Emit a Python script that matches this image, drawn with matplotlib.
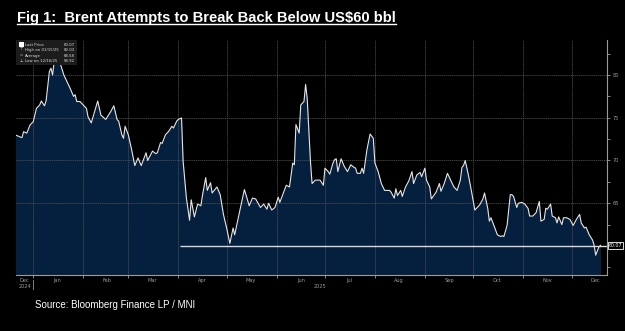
import matplotlib
matplotlib.use("Agg")
import matplotlib.pyplot as plt
import matplotlib.dates as mdates
from matplotlib.lines import Line2D
from matplotlib.patches import Rectangle
import numpy as np
import pandas as pd

# days counted from 1 Jan 2025, Brent front-month close (USD/bbl)
day_offset = [-11, -7, -6, -4, -2, 0, 2, 4, 5, 7, 8, 10, 11, 12, 13, 14, 17, 19, 21, 23,
              25, 26, 27, 29, 31, 33, 34, 36, 38, 40, 42, 45, 48, 50, 52, 53, 55, 56, 57, 59,
              61, 63, 65, 67, 70, 71, 74, 76, 77, 79, 80, 82, 84, 86, 87, 89, 90, 92, 93, 95,
              97, 98, 100, 102, 104, 105, 107, 108, 110, 111, 114, 116, 118, 120, 122, 124, 125, 127, 131, 132,
              134, 136, 138, 141, 143, 145, 146, 148, 150, 152, 153, 155, 157, 159, 161, 162, 163, 165, 166, 168,
              169, 170, 172, 173, 175, 178, 180, 181, 183, 184, 186, 187, 188, 189, 191, 193, 195, 197, 199, 200,
              201, 203, 204, 205, 207, 209, 211, 212, 214, 216, 218, 221, 222, 224, 225, 226, 228, 229, 231, 233,
              235, 236, 238, 240, 241, 243, 244, 246, 247, 250, 252, 253, 255, 257, 259, 261, 263, 265, 266, 267,
              268, 270, 272, 274, 277, 279, 280, 282, 283, 284, 286, 288, 290, 291, 292, 294, 296, 297, 298, 300,
              301, 303, 305, 307, 308, 310, 312, 314, 315, 317, 318, 319, 321, 322, 324, 325, 326, 328, 329, 331,
              333, 335, 337, 339, 340, 342, 343, 345, 347, 348, 349, 351, 352]
brent = [72.98, 72.67, 73.37, 73.2, 74.15, 74.54, 76.1, 76.5, 76.96, 76.4, 77.0, 80.4, 80.8, 80.0, 81.6, 82.03, 81.2, 80.0, 79.2, 78.4,
         77.5, 77.7, 76.9, 76.9, 76.5, 76.1, 75.1, 74.4, 75.7, 76.96, 75.3, 74.8, 75.7, 76.4, 74.8, 74.6, 73.0, 72.6, 74.0, 73.0,
         71.3, 69.4, 70.3, 69.4, 70.9, 70.0, 71.1, 70.8, 70.9, 72.1, 72.0, 73.0, 73.4, 74.0, 73.8, 74.6, 74.8, 74.98, 69.9, 65.65,
         63.0, 65.4, 63.4, 64.9, 64.7, 65.9, 68.0, 66.5, 67.4, 66.2, 66.9, 66.0, 63.7, 62.1, 60.3, 62.1, 61.3, 63.1, 66.6, 66.0,
         64.7, 65.6, 65.5, 64.5, 64.9, 64.3, 65.0, 64.2, 64.5, 65.7, 65.1, 66.1, 67.1, 66.9, 69.7, 69.5, 74.2, 73.2, 76.5, 76.9,
         78.9, 77.2, 69.9, 67.3, 67.7, 67.7, 67.1, 69.1, 68.7, 68.4, 69.7, 70.1, 70.2, 68.7, 70.2, 69.3, 68.7, 69.5, 69.2, 69.1,
         68.5, 68.5, 69.1, 68.5, 71.2, 73.1, 72.6, 69.7, 68.7, 67.3, 66.5, 66.5, 66.3, 65.6, 66.7, 65.9, 66.5, 65.8, 66.9, 67.6,
         68.7, 67.3, 68.3, 68.6, 68.1, 69.1, 67.7, 66.9, 65.5, 66.3, 67.3, 66.4, 67.3, 68.5, 67.7, 66.9, 66.5, 67.7, 69.2, 69.4,
         70.0, 68.3, 66.3, 64.2, 64.8, 65.5, 66.2, 64.4, 62.9, 63.3, 62.3, 61.3, 61.1, 61.2, 61.1, 62.4, 66.0, 66.0, 65.8, 64.5,
         65.0, 65.1, 64.9, 64.4, 63.5, 63.5, 63.9, 65.2, 62.9, 63.1, 64.4, 64.3, 64.9, 63.5, 63.3, 62.7, 63.4, 62.5, 63.3, 63.3,
         63.1, 62.4, 63.1, 63.7, 62.7, 62.1, 62.2, 61.3, 60.7, 60.1, 58.92, 59.9, 60.07]

legend_names = ["Last Price", "High on 01/15/25", "Average", "Low on 12/16/25"]
legend_values = ["60.07", "82.03", "68.58", "58.92"]
legend_marks = ["", "\u22a4", "=", "\u22a5"]
level_line = 60.0
level_start_day = 91
last_price = 60.07
y_ticks = [65, 70, 75, 80]

title = "Fig 1:  Brent Attempts to Break Back Below US$60 bbl"
source = "Source: Bloomberg Finance LP / MNI"

base = pd.Timestamp("2025-01-01")
dates = base + pd.to_timedelta(day_offset, unit="D")
x0 = base + pd.Timedelta(days=-10.7)
x1 = base + pd.Timedelta(days=356)
ybot, ytop = 56.6, 84.1

navy = "#05203f"
grey = "#9a9a9a"

fig = plt.figure(figsize=(6.25, 3.31), dpi=100, facecolor="black")
ax = fig.add_axes([16 / 625, 56 / 331, 591 / 625, 235 / 331], facecolor="black")

ax.fill_between(dates, brent, ybot, color=navy, lw=0, zorder=1)
ax.plot(dates, brent, color="#e6e6e6", lw=0.8, zorder=4)
ax.hlines(level_line, base + pd.Timedelta(days=level_start_day), x1, color="#d8d8d8", lw=1.0, zorder=5)

ax.set_xlim(x0, x1)
ax.set_ylim(ybot, ytop)

# x axis: grid at month starts, labels mid-month
ax.xaxis.set_major_locator(mdates.MonthLocator())
ax.xaxis.set_major_formatter(plt.NullFormatter())
months = pd.date_range("2025-01-01", "2025-12-01", freq="MS")
lab_pos = [x0 + (base - x0) / 2] + [m + pd.Timedelta(days=15) for m in months]
lab_txt = ["Dec\n2024"] + [m.strftime("%b") for m in months]
ax.set_xticks(lab_pos, minor=True)
ax.set_xticklabels(lab_txt, minor=True)
ax.tick_params(axis="x", which="major", length=2, color=grey, width=0.6)
ax.tick_params(axis="x", which="minor", length=0, labelsize=3.6, labelcolor=grey, pad=2)
ax.text(base + (x1 - base) / 2, -0.037, "2025", transform=ax.get_xaxis_transform(),
        ha="center", va="top", fontsize=3.6, color=grey)
ax.plot([base, base], [-0.02, -0.06], transform=ax.get_xaxis_transform(),
        color=grey, lw=0.6, clip_on=False)

# y axis on the right
ax.yaxis.tick_right()
ax.set_yticks(y_ticks)
ax.set_yticks(np.arange(57.5, 84, 2.5), minor=True)
ax.tick_params(axis="y", which="both", length=2, color=grey, width=0.6,
               labelsize=3.6, labelcolor=grey, pad=2)

ax.grid(True, which="major", color="#555555", lw=0.5, ls=(0, (2, 1)), zorder=2)
ax.set_axisbelow(False)
for s in ["top", "left"]:
    ax.spines[s].set_visible(False)
for s in ["bottom", "right"]:
    ax.spines[s].set_color(grey)
    ax.spines[s].set_linewidth(0.8)

# last price tag
ax.text(1.003, last_price, "%.2f" % last_price, transform=ax.get_yaxis_transform(),
        ha="left", va="center", fontsize=3.4, color="white", zorder=6,
        bbox=dict(boxstyle="square,pad=0.25", fc="black", ec="white", lw=0.6))

# legend box
ax.add_patch(Rectangle((0, 0.895), 0.104, 0.105, transform=ax.transAxes,
                       fc="#1c1c1c", ec="none", zorder=7))
ly = [0.980, 0.957, 0.934, 0.911]
for i in range(4):
    ax.text(0.016, ly[i], legend_names[i], transform=ax.transAxes, fontsize=2.8,
            color="#dddddd", va="center", ha="left", zorder=8)
    ax.text(0.1, ly[i], legend_values[i], transform=ax.transAxes, fontsize=2.8,
            color="#dddddd", va="center", ha="right", zorder=8)
    if legend_marks[i]:
        ax.text(0.009, ly[i], legend_marks[i], transform=ax.transAxes, fontsize=2.8,
                color="#dddddd", va="center", ha="center", zorder=8)
ax.add_patch(Rectangle((0.0055, 0.972), 0.008, 0.018, transform=ax.transAxes,
                       fc="white", ec="none", zorder=8))

# title with underline
t = fig.text(17 / 625, 1 - 18 / 331, title, fontsize=10.6, fontweight="bold",
             family="Liberation Sans", color="white", ha="left", va="center")
fig.text(35 / 625, 1 - 305 / 331, source, fontsize=7, family="Liberation Sans",
         color="white", ha="left", va="center")
fig.canvas.draw()
bb = t.get_window_extent().transformed(fig.transFigure.inverted())
fig.add_artist(Line2D([bb.x0, bb.x1], [bb.y0 + 0.004, bb.y0 + 0.004],
                      transform=fig.transFigure, color="white", lw=1.0))

fig.savefig("out.png", dpi=100, facecolor="black")
